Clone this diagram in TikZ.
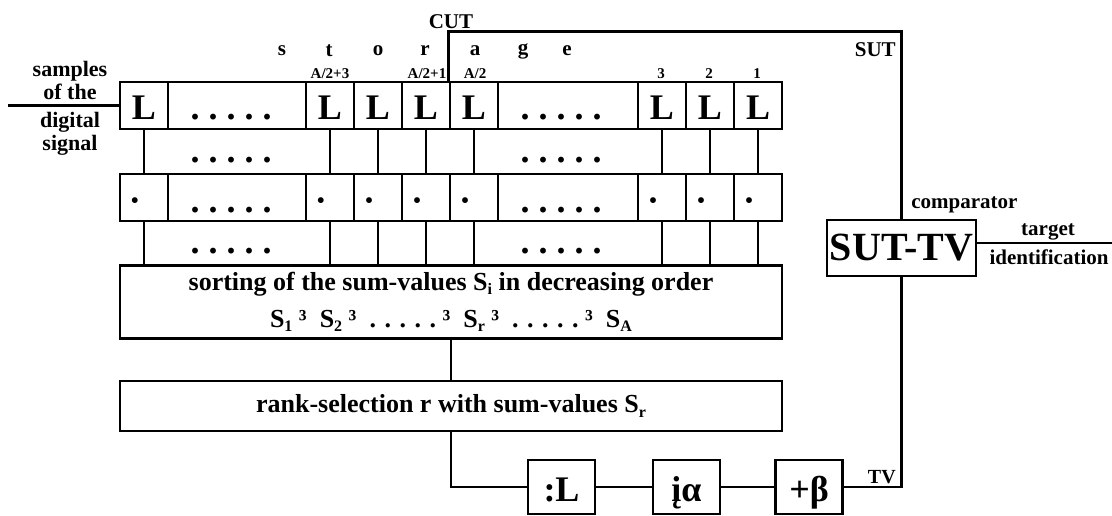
\documentclass[tikz,border=0pt]{standalone}
\usepackage{fontspec}
\setmainfont{Liberation Serif}
\newcommand\fsz[1]{\fontsize{#1}{#1}\selectfont}
\newcommand\sbs[1]{\raisebox{-0.35ex}{\fontsize{16}{16}\selectfont #1}}
\newcommand\dts{.\hspace{8.5pt}.\hspace{8.5pt}.\hspace{8.5pt}.\hspace{8.5pt}.}

\begin{document}
\frenchspacing
\begin{tikzpicture}[x=1pt,y=-1pt,line width=2.6pt]
	\tikzset{
		cell/.style={draw,inner sep=0pt,minimum height=47pt,text height=29pt,text depth=0pt,font=\bfseries\fsz{36}},
		dotrow/.style={anchor=base,inner sep=0pt,font=\bfseries\fsz{36}},
		lab/.style={inner sep=0pt,font=\bfseries\fsz{21}},
		num/.style={anchor=base,inner sep=0pt,font=\bfseries\fsz{15}},
		wide/.style={draw,inner sep=0pt,minimum width=662pt,align=center},
		op/.style={draw,inner sep=0pt,minimum width=67pt,minimum height=54pt,text height=28pt,text depth=0pt,font=\bfseries\fsz{36}}
	}
	\useasboundingbox (0,0) rectangle (1112,516);
	
	% storage row
	\node[cell,minimum width=48pt] (L1) at (144,105.5) {L};
	\node[cell,minimum width=138pt] (D1) at (237,105.5) {. . . . .\hspace*{12pt}};
	\node[cell,minimum width=48pt] (L2) at (330,105.5) {L};
	\node[cell,minimum width=48pt] (L3) at (378,105.5) {L};
	\node[cell,minimum width=48pt] (L4) at (426,105.5) {L};
	\node[cell,minimum width=48pt] (L5) at (474,105.5) {L};
	\node[cell,minimum width=140pt] (D2) at (568,105.5) {. . . . .\hspace*{14pt}};
	\node[cell,minimum width=48pt] (L6) at (662,105.5) {L};
	\node[cell,minimum width=48pt] (L7) at (710,105.5) {L};
	\node[cell,minimum width=48pt] (L8) at (758,105.5) {L};
	
	\node[lab] (ls) at (282,51) {s};
	\node[lab] (lt) at (329,51) {t};
	\node[lab] (lo) at (378,51) {o};
	\node[lab] (lr) at (425,51) {r};
	\node[lab] (la) at (475,51) {a};
	\node[lab] (lg) at (523,51) {g};
	\node[lab] (le) at (567,51) {e};
	
	\node[num] (n1) at (330,79) {A/2+3};
	\node[num] (n2) at (427,79) {A/2+1};
	\node[num] (n3) at (475,79) {A/2};
	\node[num] (n4) at (661,79) {3};
	\node[num] (n5) at (709,79) {2};
	\node[num] (n6) at (757,79) {1};
	
	% input
	\node[lab,align=center,font=\bfseries\fontsize{22}{23}\selectfont] (smp) at (70,108) {samples\\of the\\[5pt]digital\\signal};
	\coordinate (in) at (8,105.5);
	\draw (in) -- (L1);
	
	% sum row
	\node[cell,minimum width=48pt] (P1) at (144,197.5) {·\hspace*{18pt}};
	\node[cell,minimum width=138pt] (E1) at (237,197.5) {. . . . .\hspace*{12pt}};
	\node[cell,minimum width=48pt] (P2) at (330,197.5) {·\hspace*{18pt}};
	\node[cell,minimum width=48pt] (P3) at (378,197.5) {·\hspace*{18pt}};
	\node[cell,minimum width=48pt] (P4) at (426,197.5) {·\hspace*{18pt}};
	\node[cell,minimum width=48pt] (P5) at (474,197.5) {·\hspace*{18pt}};
	\node[cell,minimum width=140pt] (E2) at (568,197.5) {. . . . .\hspace*{14pt}};
	\node[cell,minimum width=48pt] (P6) at (662,197.5) {·\hspace*{18pt}};
	\node[cell,minimum width=48pt] (P7) at (710,197.5) {·\hspace*{18pt}};
	\node[cell,minimum width=48pt] (P8) at (758,197.5) {·\hspace*{18pt}};
	
	\node[dotrow] (R1) at (231,163) {. . . . .};
	\node[dotrow] (R2) at (561,163) {. . . . .};
	\node[dotrow] (R3) at (231,253) {. . . . .};
	\node[dotrow] (R4) at (561,253) {. . . . .};
	
	\node[wide,minimum height=73pt,font=\bfseries\fontsize{26}{37}\selectfont] (sort) at (451,302)
		{sorting of the sum-values S\sbs{i} in decreasing order\\
		 S\sbs{1} ³\ \ S\sbs{2} ³\ \ \dts\ ³\ \ S\sbs{r} ³\ \ \dts\ ³\ \ S\sbs{A}};
	
	\draw (L1) -- (P1);
	\draw (L2) -- (P2);
	\draw (L3) -- (P3);
	\draw (L4) -- (P4);
	\draw (L5) -- (P5);
	\draw (L6) -- (P6);
	\draw (L7) -- (P7);
	\draw (L8) -- (P8);
	\draw (P1) -- (P1 |- sort.north);
	\draw (P2) -- (P2 |- sort.north);
	\draw (P3) -- (P3 |- sort.north);
	\draw (P4) -- (P4 |- sort.north);
	\draw (P5) -- (P5 |- sort.north);
	\draw (P6) -- (P6 |- sort.north);
	\draw (P7) -- (P7 |- sort.north);
	\draw (P8) -- (P8 |- sort.north);
	
	% rank and scaling
	\node[wide,minimum height=50pt,font=\bfseries\fsz{26}] (rank) at (451,406) {rank-selection r with sum-values S\sbs{r}};
	\draw (sort) -- (rank);
	
	\node[op] (divL) at (561.5,487) {:L};
	\node[op] (mulA) at (686.5,487) {įα};
	\node[op] (addB) at (809,487) {+β};
	\draw (rank.south) |- (divL);
	\draw (divL) -- (mulA);
	\draw (mulA) -- (addB);
	
	% comparator
	\node[draw,inner sep=0pt,minimum width=149pt,minimum height=56pt,font=\bfseries\fsz{40}] (cmp) at (901.5,248) {SUT-TV};
	\draw (L5.north west) -- ++(0,-49) -| (cmp.north);
	\draw (addB) -| (cmp.south);
	\coordinate (tgt) at (1112,243);
	\draw (tgt -| cmp.east) -- (tgt);
	
	\node[lab] (cut) at (451,22) {CUT};
	\node[lab,anchor=base east] (sut) at (897,57) {SUT};
	\node[lab,anchor=base east,font=\bfseries\fsz{20}] (tv) at (897,483) {TV};
	\node[lab,anchor=west] (cmpl) at (910,205) {comparator};
	\node[lab] (tg1) at (1048,232) {target};
	\node[lab] (tg2) at (1049,257) {identification};
	
\end{tikzpicture}
\end{document}
